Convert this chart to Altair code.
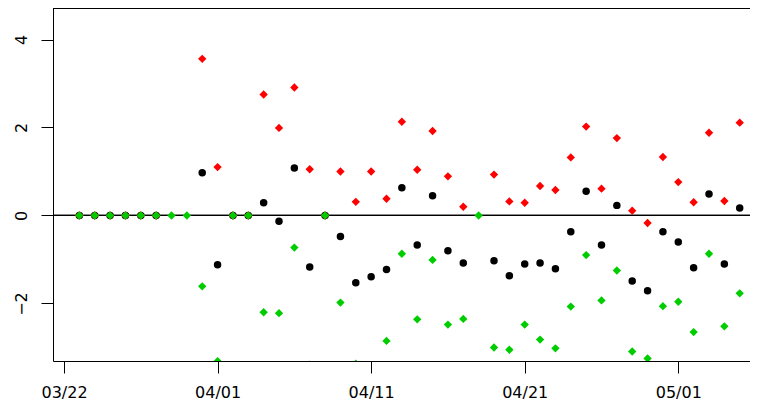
import altair as alt
import pandas as pd

# ---- data ----
dates = ["03/23", "03/24", "03/25", "03/26", "03/27", "03/28", "03/29", "03/30",
         "03/31", "04/01", "04/02", "04/03", "04/04", "04/05", "04/06", "04/07",
         "04/08", "04/09", "04/10", "04/11", "04/12", "04/13", "04/14", "04/15",
         "04/16", "04/17", "04/18", "04/19", "04/20", "04/21", "04/22", "04/23",
         "04/24", "04/25", "04/26", "04/27", "04/28", "04/29", "04/30", "05/01",
         "05/02", "05/03", "05/04", "05/05"]
mid = [0, 0, 0, 0, 0, 0, None, None,
       0.97, -1.12, 0, 0, 0.29, -0.13, 1.08, -1.17,
       0, -0.48, -1.53, -1.39, -1.23, 0.63, -0.67, 0.45,
       -0.80, -1.08, None, -1.03, -1.37, -1.10, -1.08, -1.21,
       -0.37, 0.55, -0.67, 0.23, -1.49, -1.71, -0.37, -0.60,
       -1.19, 0.49, -1.10, 0.17]
upper = [0, 0, 0, 0, 0, 0, None, None,
         3.56, 1.10, 0, 0, 2.75, 1.99, 2.91, 1.05,
         0, 1.00, 0.31, 1.00, 0.38, 2.13, 1.04, 1.92,
         0.89, 0.20, None, 0.93, 0.32, 0.29, 0.67, 0.58,
         1.32, 2.02, 0.61, 1.76, 0.11, -0.17, 1.33, 0.76,
         0.30, 1.88, 0.33, 2.11]
lower = [0, 0, 0, 0, 0, 0, 0, 0,
         -1.61, -3.31, 0, 0, -2.20, -2.22, -0.73, -3.39,
         0, -1.98, -3.37, -3.78, -2.85, -0.87, -2.36, -1.01,
         -2.48, -2.35, 0, -3.00, -3.05, -2.48, -2.82, -3.02,
         -2.07, -0.90, -1.93, -1.25, -3.09, -3.25, -2.06, -1.96,
         -2.65, -0.87, -2.52, -1.77]
x_tick_labels = ["03/22", "04/01", "04/11", "04/21", "05/01"]
y_ticks = [-2, 0, 2, 4]

origin = pd.Timestamp("2020-03-22")


def day_of(s):
    return (pd.Timestamp("2020-" + s.replace("/", "-")) - origin).days


df = pd.DataFrame({
    "day": [day_of(d) for d in dates],
    "mid": mid,
    "upper": upper,
    "lower": lower,
})
x_tick_pos = [day_of(t) for t in x_tick_labels]
label_expr = " : ".join(
    f"datum.value == {p} ? '{t}'" for p, t in zip(x_tick_pos, x_tick_labels)
) + " : ''"

X_DOMAIN = [-0.717, 44.67]
Y_DOMAIN = [-3.307, 4.716]

x_enc = alt.X(
    "day:Q",
    scale=alt.Scale(domain=X_DOMAIN, nice=False, zero=False),
    axis=alt.Axis(values=x_tick_pos, labelExpr=label_expr, title=None, grid=False,
                  tickSize=12, labelPadding=11, domain=True),
)


def y_enc(field):
    return alt.Y(
        f"{field}:Q",
        scale=alt.Scale(domain=Y_DOMAIN, nice=False, zero=False),
        axis=alt.Axis(values=y_ticks, title=None, grid=False, tickSize=12,
                      labelAngle=270, labelAlign="center", labelBaseline="alphabetic",
                      labelPadding=15, domain=True),
    )


base = alt.Chart(df)

zero_line = alt.Chart(df).mark_rule(color="black", strokeWidth=1).encode(y=alt.datum(0))
top_line = alt.Chart(df).mark_rule(color="black", strokeWidth=1.5).encode(y=alt.datum(Y_DOMAIN[1]))

black_pts = base.mark_point(shape="circle", filled=True, color="black", size=56,
                            opacity=1, clip=True).encode(x=x_enc, y=y_enc("mid"))
red_pts = base.mark_point(shape="diamond", filled=True, color="#FF0000", size=70,
                          opacity=1, clip=True).encode(x=x_enc, y=y_enc("upper"))
green_pts = base.mark_point(shape="diamond", filled=True, color="#00CD00", size=70,
                            opacity=1, clip=True).encode(x=x_enc, y=y_enc("lower"))

chart = alt.layer(zero_line, black_pts, red_pts, green_pts, top_line).properties(
    width=697,
    height=353,
    autosize=alt.AutoSizeParams(type="none"),
    padding={"left": 45, "top": 0, "right": 0, "bottom": 41},
).configure_view(
    stroke="transparent"
).configure_axis(
    labelFont="DejaVu Sans",
    labelFontSize=16,
    labelColor="black",
    domainColor="black",
    domainWidth=1,
    tickColor="black",
    tickWidth=1,
)

chart.save("out.html", embed_options={"renderer": "svg", "actions": False})
